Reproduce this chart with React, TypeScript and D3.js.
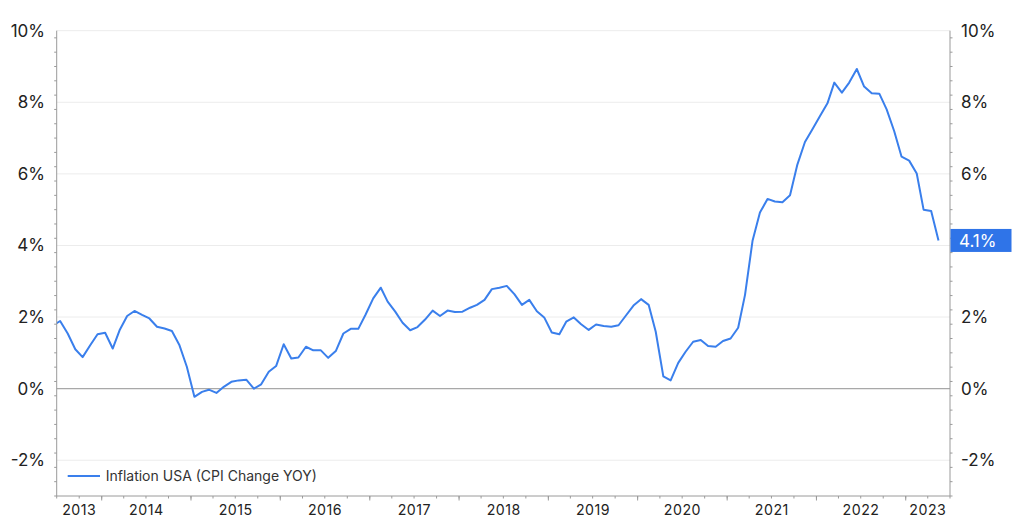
import React from "react";
import * as d3 from "d3";

// Monthly CPI change YoY (%), Jun 2013 .. May 2023
const startYear = 2013;
const startMonth = 5; // June (0-based)
const cpiYoY: number[] = [
  // 2013 Jun-Dec
  1.76, 1.89, 1.54, 1.10, 0.88, 1.21, 1.52,
  // 2014
  1.56, 1.12, 1.63, 2.03, 2.17, 2.06, 1.96, 1.73, 1.68, 1.61, 1.21, 0.61,
  // 2015
  -0.23, -0.09, -0.03, -0.12, 0.05, 0.19, 0.23, 0.25, 0.0, 0.12, 0.47, 0.63,
  // 2016
  1.24, 0.84, 0.87, 1.17, 1.07, 1.07, 0.86, 1.05, 1.54, 1.67, 1.67, 2.07,
  // 2017
  2.52, 2.82, 2.43, 2.15, 1.84, 1.63, 1.72, 1.93, 2.18, 2.03, 2.18, 2.14,
  // 2018
  2.15, 2.26, 2.34, 2.48, 2.78, 2.82, 2.87, 2.64, 2.34, 2.48, 2.16, 1.99,
  // 2019
  1.57, 1.52, 1.87, 1.99, 1.80, 1.64, 1.79, 1.75, 1.73, 1.77, 2.05, 2.32,
  // 2020
  2.50, 2.34, 1.59, 0.34, 0.23, 0.72, 1.03, 1.31, 1.36, 1.19, 1.17, 1.33,
  // 2021
  1.40, 1.70, 2.62, 4.14, 4.92, 5.30, 5.23, 5.21, 5.40, 6.26, 6.89, 7.24,
  // 2022
  7.61, 7.97, 8.55, 8.27, 8.55, 8.93, 8.44, 8.25, 8.24, 7.80, 7.19, 6.48,
  // 2023 Jan-May
  6.37, 6.01, 5.00, 4.96, 4.14,
];

const yTicks: number[] = [-2, 0, 2, 4, 6, 8, 10];
const yearLabels: number[] = [2013, 2014, 2015, 2016, 2017, 2018, 2019, 2020, 2021, 2022, 2023];
const seriesName = "Inflation USA (CPI Change YOY)";

const W = 1024;
const H = 521;
const M = { left: 56.7, right: 950, top: 30.7, bottom: 496 };
const FONT = "Inter, 'Noto Sans', sans-serif";
const LINE_COLOR = "#3a7fec";

export default function App() {
  const dates = cpiYoY.map((_, i) => new Date(startYear, startMonth + i, 15));
  const data = cpiYoY.map((v, i) => ({ d: dates[i], v }));

  const x = d3
    .scaleTime()
    .domain([new Date(2013, 6, 1), new Date(2023, 6, 1)])
    .range([M.left, M.right]);
  const y = d3.scaleLinear().domain([-3, 10]).range([M.bottom, M.top]);

  const line = d3
    .line<{ d: Date; v: number }>()
    .x((p) => x(p.d))
    .y((p) => y(p.v));

  const minorY = d3.range(-3, 10.001, 0.4).map((v) => +v.toFixed(2));
  const quarterTicks = d3.timeMonth.every(3)!.range(x.domain()[0], new Date(2023, 6, 2));
  const yearTicks = d3.timeYear.range(new Date(2014, 0, 1), new Date(2023, 1, 1));

  const last = data[data.length - 1];
  const lastY = y(last.v);

  return (
    <div style={{ position: "absolute", left: 0, top: 0 }}>
      <svg width={W} height={H} style={{ display: "block", fontFamily: FONT }}>
        <defs>
          <clipPath id="plot">
            <rect x={M.left} y={M.top - 5} width={M.right - M.left} height={M.bottom - M.top + 5} />
          </clipPath>
        </defs>
        <rect x={0} y={0} width={W} height={H} fill="#fff" />
        {/* grid */}
        {yTicks.map((t) => (
          <line
            key={"g" + t}
            x1={M.left}
            x2={M.right}
            y1={y(t)}
            y2={y(t)}
            stroke={t === 0 ? "#a8a8a8" : "#ececec"}
            strokeWidth={t === 0 ? 1.3 : 1}
          />
        ))}
        {/* line */}
        <path
          d={line(data) || ""}
          fill="none"
          stroke={LINE_COLOR}
          strokeWidth={2}
          strokeLinejoin="round"
          clipPath="url(#plot)"
        />
        {/* left axis */}
        <line x1={M.left} x2={M.left} y1={M.top} y2={M.bottom} stroke="#9a9a9a" />
        {minorY.map((t) => {
          const major = yTicks.includes(t);
          return (
            <g key={"ly" + t}>
              <line x1={M.left - (major ? 4 : 2.5)} x2={M.left} y1={y(t)} y2={y(t)} stroke="#9a9a9a" />
              <line x1={M.right} x2={M.right + (major ? 4 : 2.5)} y1={y(t)} y2={y(t)} stroke="#9a9a9a" />
            </g>
          );
        })}
        {yTicks.map((t) => (
          <g key={"yl" + t}>
            <text x={45} y={y(t)} dy="0.35em" textAnchor="end" fontSize={17} fill="#222">
              {t}%
            </text>
            {Math.abs(y(t) - lastY) > 14 && (
              <text x={961} y={y(t)} dy="0.35em" textAnchor="start" fontSize={17} fill="#222">
                {t}%
              </text>
            )}
          </g>
        ))}
        {/* right axis */}
        <line x1={M.right} x2={M.right} y1={M.top} y2={M.bottom} stroke="#9a9a9a" />
        {/* bottom axis */}
        <line x1={M.left} x2={M.right} y1={M.bottom} y2={M.bottom} stroke="#9a9a9a" />
        {quarterTicks.map((d, i) => (
          <line key={"q" + i} x1={x(d)} x2={x(d)} y1={M.bottom} y2={M.bottom + 2.5} stroke="#9a9a9a" />
        ))}
        {yearTicks.map((d, i) => (
          <line key={"yt" + i} x1={x(d)} x2={x(d)} y1={M.bottom} y2={M.bottom + 4.5} stroke="#9a9a9a" />
        ))}
        {yearLabels.map((yr) => {
          const a = Math.max(x(new Date(yr, 0, 1)), M.left);
          const b = Math.min(x(new Date(yr + 1, 0, 1)), M.right);
          return (
            <text
              key={"xl" + yr}
              x={(a + b) / 2}
              y={510}
              dy="0.35em"
              textAnchor="middle"
              fontSize={14.2}
              letterSpacing={0.5}
              fill="#222"
            >
              {yr}
            </text>
          );
        })}
        {/* last value label */}
        <rect x={M.right + 0.5} y={lastY - 11.5} width={61} height={23} fill="#2f74e8" />
        <text x={959} y={lastY} dy="0.36em" fontSize={17} fill="#fff">
          {d3.format(".1f")(last.v)}%
        </text>
        {/* legend */}
        <line x1={67.7} x2={100} y1={476} y2={476} stroke={LINE_COLOR} strokeWidth={2} />
        <text x={105.7} y={476} dy="0.35em" fontSize={14} fill="#333">
          {seriesName}
        </text>
      </svg>
    </div>
  );
}
